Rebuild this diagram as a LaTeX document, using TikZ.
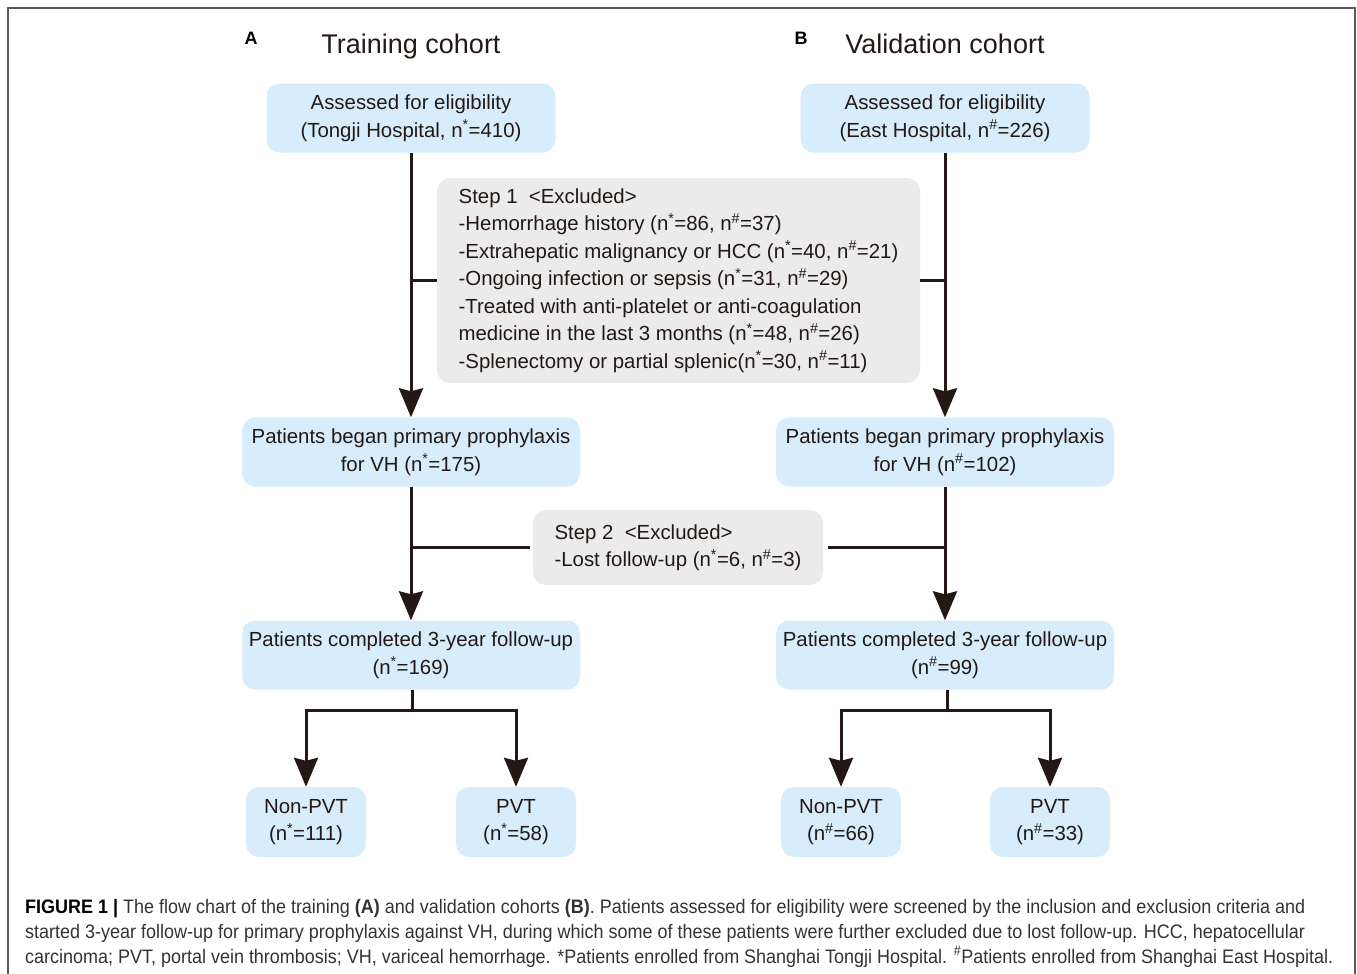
\documentclass[tikz,border=0pt]{standalone}
\usepackage{fontspec}
\setmainfont{Liberation Sans}
\newfontfamily\capfont[FakeStretch=0.922]{Liberation Sans}
\usetikzlibrary{arrows.meta,positioning}
\definecolor{boxblue}{RGB}{215,237,251}
\definecolor{boxgray}{RGB}{235,235,235}
\definecolor{inkdark}{RGB}{35,24,21}
\definecolor{framegray}{RGB}{90,90,90}
\begin{document}
\begin{tikzpicture}[
        x=1pt, y=-1pt,
        every node/.style={text=inkdark, font=\fontsize{20.4}{27.5}\selectfont},
        bluebox/.style={fill=boxblue, rounded corners=13pt, align=center, inner sep=0pt, minimum height=69pt},
        graybox/.style={fill=boxgray, rounded corners=13pt, align=left, inner sep=0pt},
        title/.style={anchor=base, font=\fontsize{27}{32}\selectfont},
        panel/.style={font=\fontsize{18}{20}\selectfont\bfseries, text=black},
        link/.style={draw=inkdark, line width=3pt},
        arrow/.style={link, -{Stealth[length=29pt, width=24pt, inset=3pt]}},
    ]
    \clip (0,0) rectangle (1357,974);
    \draw[framegray, line width=1.5pt] (8,8) rectangle (1355,1000);

    \node[panel](pa) at (251,38){A};
    \node[title](ta) at (411,53){Training cohort};
    \node[panel](pb) at (801,38){B};
    \node[title](tb) at (945,53){Validation cohort};

    \node[bluebox, minimum width=289pt](tl1) at (411,118){Assessed for eligibility\\(Tongji Hospital, n\textsuperscript{*}=410)};
    \node[bluebox, minimum width=289pt](tr1) at (945,118){Assessed for eligibility\\(East Hospital, n\textsuperscript{\#}=226)};

    \node[graybox, minimum width=483pt, minimum height=205pt](step1) at (678.5,280.5){Step 1\ \ <Excluded>\\
        -Hemorrhage history (n\textsuperscript{*}=86, n\textsuperscript{\#}=37)\\
        -Extrahepatic malignancy or HCC (n\textsuperscript{*}=40, n\textsuperscript{\#}=21)\\
        -Ongoing infection or sepsis (n\textsuperscript{*}=31, n\textsuperscript{\#}=29)\\
        -Treated with anti-platelet or anti-coagulation\\
        medicine in the last 3 months (n\textsuperscript{*}=48, n\textsuperscript{\#}=26)\\
        -Splenectomy or partial splenic(n\textsuperscript{*}=30, n\textsuperscript{\#}=11)};

    \node[bluebox, minimum width=338pt](tl2) at (411,452){Patients began primary prophylaxis\\for VH (n\textsuperscript{*}=175)};
    \node[bluebox, minimum width=338pt](tr2) at (945,452){Patients began primary prophylaxis\\for VH (n\textsuperscript{\#}=102)};

    \node[graybox, minimum width=290pt, minimum height=75pt](step2) at (678,547.5){Step 2\ \ <Excluded>\\
        -Lost follow-up (n\textsuperscript{*}=6, n\textsuperscript{\#}=3)};

    \node[bluebox, minimum width=338pt](tl3) at (411,655){Patients completed 3-year follow-up\\(n\textsuperscript{*}=169)};
    \node[bluebox, minimum width=338pt](tr3) at (945,655){Patients completed 3-year follow-up\\(n\textsuperscript{\#}=99)};

    \node[bluebox, minimum width=120pt, minimum height=70pt](tl4a) at (306,822){Non-PVT\\(n\textsuperscript{*}=111)};
    \node[bluebox, minimum width=120pt, minimum height=70pt](tl4b) at (516,822){PVT\\(n\textsuperscript{*}=58)};
    \node[bluebox, minimum width=120pt, minimum height=70pt](tr4a) at (841,822){Non-PVT\\(n\textsuperscript{\#}=66)};
    \node[bluebox, minimum width=120pt, minimum height=70pt](tr4b) at (1050,822){PVT\\(n\textsuperscript{\#}=33)};

    \draw[arrow] (tl1) -- (tl2);
    \draw[arrow] (tr1) -- (tr2);
    \draw[link] (step1.west) -- (step1.west -| tl1.south);
    \draw[link] (step1.east) -- (step1.east -| tr1.south);

    \draw[arrow] (tl2) -- (tl3);
    \draw[arrow] (tr2) -- (tr3);
    \draw[link] ([xshift=-3pt]step2.west) -- (step2.west -| tl2.south);
    \draw[link] ([xshift=5pt]step2.east) -- (step2.east -| tr2.south);

    \draw[arrow] ([xshift=1pt]tl3.south) -- ++(0,21) -| (tl4a.north);
    \draw[arrow] ([xshift=1pt]tl3.south) -- ++(0,21) -| (tl4b.north);
    \draw[arrow] ([xshift=2pt]tr3.south) -- ++(0,21) -| (tr4a.north);
    \draw[arrow] ([xshift=2pt]tr3.south) -- ++(0,21) -| (tr4b.north);

    \node[anchor=north west, align=left, inner sep=0pt, text=black!80, font=\capfont\fontsize{19.5}{25}\selectfont](caption) at (25,899){%
        {\bfseries\color{black}FIGURE 1 |} The flow chart of the training {\bfseries(A)} and validation cohorts {\bfseries(B)}. Patients assessed for eligibility were screened by the inclusion and exclusion criteria and\\
        started 3-year follow-up for primary prophylaxis against VH, during which some of these patients were further excluded due to lost follow-up. HCC, hepatocellular\\
        carcinoma; PVT, portal vein thrombosis; VH, variceal hemorrhage. *Patients enrolled from Shanghai Tongji Hospital. \textsuperscript{\#}Patients enrolled from Shanghai East Hospital.};
\end{tikzpicture}
\end{document}
